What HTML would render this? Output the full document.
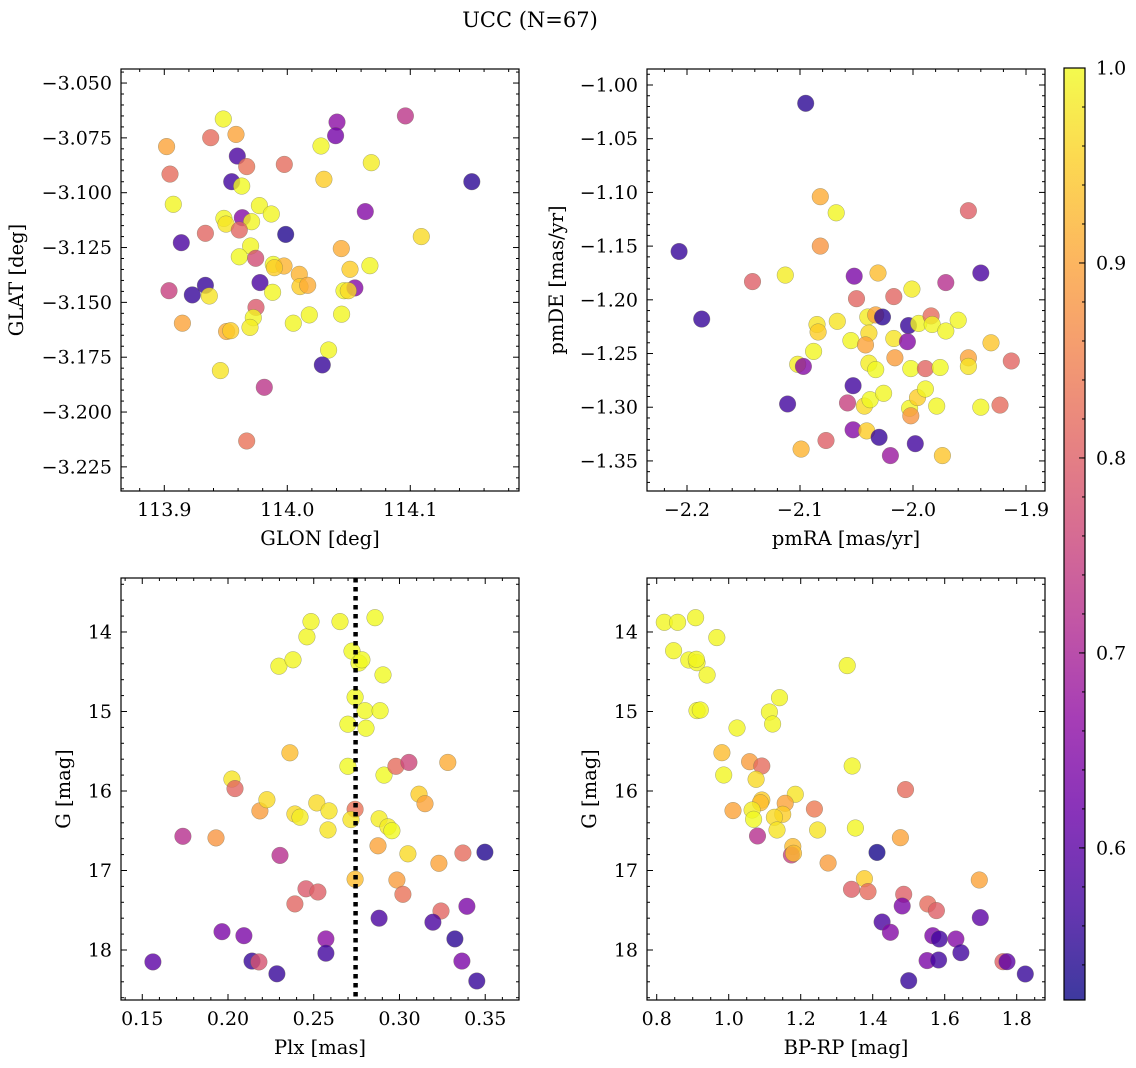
<!DOCTYPE html>
<html><head><meta charset="utf-8"><style>
html,body{margin:0;padding:0;background:#fff;}
svg{display:block;font-family:"DejaVu Serif","Liberation Serif",serif;}
</style></head><body>
<svg id="fig" width="1136" height="1068" viewBox="0 0 1136 1068" xmlns="http://www.w3.org/2000/svg">
<defs>
<linearGradient id="plasmaGrad" x1="0" y1="1" x2="0" y2="0">
<stop offset="0" stop-color="#0d0887"/><stop offset="0.1" stop-color="#41049d"/><stop offset="0.2" stop-color="#6a00a8"/><stop offset="0.3" stop-color="#8f0da4"/><stop offset="0.4" stop-color="#b12a90"/><stop offset="0.5" stop-color="#cc4778"/><stop offset="0.6" stop-color="#e16462"/><stop offset="0.7" stop-color="#f2844b"/><stop offset="0.8" stop-color="#fca636"/><stop offset="0.9" stop-color="#fcce25"/><stop offset="1" stop-color="#f0f921"/>
</linearGradient>
</defs>
<text x="530" y="27" font-size="21" text-anchor="middle" fill="#000">UCC (N=67)</text>
</svg>
<script>
// ---- data: panel 1 (GLON / GLAT) ----
const glon = [113.9480,113.9019,113.9377,113.9583,113.9594,113.9670,113.9976,114.0404,114.0393,114.0274,114.0683,113.9046,113.9548,113.9629,114.0298,113.9073,113.9773,113.9870,113.9485,113.9502,113.9634,113.9710,113.9610,113.9334,113.9138,113.9987,114.0634,113.9702,113.9610,113.9743,113.9886,113.9973,113.9895,114.0439,114.0098,114.0510,114.0672,114.0103,114.0166,113.9038,113.9334,113.9228,113.9366,113.9778,113.9881,114.0461,114.0550,114.0496,113.9746,113.9724,113.9697,113.9507,113.9540,113.9147,114.0049,114.0179,114.0442,114.0336,114.0285,113.9456,113.9813,114.096,114.109,114.150,113.967];
const glat = [-3.0664,-3.0790,-3.0749,-3.0734,-3.0833,-3.0881,-3.0871,-3.0678,-3.0740,-3.0787,-3.0863,-3.0915,-3.0950,-3.0970,-3.0939,-3.1053,-3.1059,-3.1097,-3.1117,-3.1143,-3.1114,-3.1132,-3.1170,-3.1185,-3.1228,-3.1190,-3.1086,-3.1243,-3.1292,-3.1299,-3.1327,-3.1334,-3.1342,-3.1255,-3.1372,-3.1349,-3.1333,-3.1428,-3.1422,-3.1447,-3.1422,-3.1466,-3.1471,-3.1410,-3.1454,-3.1447,-3.1434,-3.1447,-3.1523,-3.1570,-3.1614,-3.1633,-3.1629,-3.1595,-3.1595,-3.1557,-3.1554,-3.1717,-3.1785,-3.1811,-3.1887,-3.065,-3.120,-3.095,-3.2132];
const prob1 = [0.995,0.90,0.82,0.90,0.58,0.83,0.82,0.66,0.63,0.995,0.985,0.82,0.57,1.0,0.95,0.995,0.995,0.995,0.995,0.975,0.65,0.995,0.81,0.81,0.58,0.54,0.65,0.995,1.0,0.77,1.0,0.92,0.95,0.91,0.92,0.95,0.995,0.95,0.91,0.75,0.56,0.56,0.975,0.58,0.995,0.995,0.65,0.965,0.79,0.995,0.985,0.91,0.95,0.90,0.995,0.995,0.995,0.995,0.56,0.975,0.73,0.73,0.965,0.55,0.83];
// ---- data: panel 2 (pmRA / pmDE) ----
const pmra = [-2.113,-2.052,-2.031,-1.940,-1.971,-2.001,-2.050,-2.017,-2.040,-2.033,-2.027,-2.004,-1.995,-1.984,-1.983,-1.960,-1.971,-2.085,-2.084,-2.067,-2.055,-2.039,-2.042,-2.017,-2.005,-1.931,-2.088,-2.016,-2.039,-2.033,-2.002,-1.989,-1.976,-1.951,-1.951,-1.913,-2.102,-2.097,-2.053,-2.111,-2.058,-2.043,-2.038,-2.026,-2.003,-1.996,-1.989,-2.002,-1.979,-1.940,-1.923,-2.053,-2.041,-2.030,-2.077,-2.099,-2.020,-1.998,-1.974,-2.095,-2.082,-2.068,-1.951,-2.207,-2.142,-2.187,-2.082];
const pmde = [-1.177,-1.178,-1.175,-1.175,-1.184,-1.190,-1.199,-1.197,-1.216,-1.214,-1.216,-1.224,-1.222,-1.215,-1.223,-1.219,-1.229,-1.223,-1.230,-1.220,-1.238,-1.231,-1.242,-1.236,-1.239,-1.240,-1.248,-1.254,-1.259,-1.265,-1.264,-1.264,-1.263,-1.254,-1.262,-1.257,-1.260,-1.262,-1.280,-1.297,-1.296,-1.299,-1.293,-1.287,-1.301,-1.291,-1.283,-1.308,-1.299,-1.300,-1.298,-1.321,-1.322,-1.328,-1.331,-1.339,-1.345,-1.334,-1.345,-1.017,-1.104,-1.119,-1.117,-1.155,-1.183,-1.218,-1.150];
const prob2 = [0.985,0.64,0.93,0.58,0.72,0.985,0.81,0.81,0.985,0.90,0.55,0.56,0.995,0.82,0.995,0.995,0.995,0.975,0.95,0.975,0.995,0.965,0.90,0.975,0.65,0.94,0.995,0.89,0.985,1.0,1.0,0.81,1.0,0.90,0.975,0.81,0.985,0.65,0.57,0.57,0.75,0.965,1.0,0.995,0.995,0.95,0.995,0.88,0.995,0.995,0.82,0.65,0.95,0.56,0.80,0.92,0.68,0.57,0.94,0.55,0.91,0.995,0.80,0.56,0.80,0.56,0.88];
// ---- data: panel 3 (Plx / G) ----
const plx = [0.1562,0.1737,0.1930,0.2023,0.2041,0.2186,0.2227,0.2303,0.1965,0.2093,0.2140,0.2180,0.2285,0.2297,0.2379,0.2460,0.2484,0.2653,0.2857,0.2361,0.2390,0.2420,0.2455,0.2524,0.2390,0.2518,0.2589,0.2583,0.2571,0.2571,0.2723,0.2764,0.2781,0.2741,0.2799,0.2887,0.2699,0.2805,0.2904,0.2699,0.2741,0.2717,0.2741,0.2881,0.2933,0.2956,0.2910,0.2979,0.3055,0.3282,0.3114,0.3149,0.2875,0.3049,0.3230,0.3370,0.3498,0.2985,0.3020,0.3242,0.3393,0.2881,0.3195,0.3323,0.3364,0.3451];
const gmag3 = [18.15,16.57,16.59,15.85,15.97,16.25,16.11,16.81,17.77,17.82,18.14,18.15,18.30,14.43,14.35,14.06,13.87,13.87,13.82,15.52,16.29,16.33,17.23,17.27,17.42,16.15,16.25,16.49,17.86,18.04,14.24,14.39,14.35,14.82,14.99,14.99,15.16,15.21,14.54,15.69,16.23,16.36,17.11,16.35,16.45,16.50,15.80,15.69,15.64,15.64,16.04,16.16,16.69,16.79,16.91,16.78,16.77,17.12,17.30,17.51,17.45,17.60,17.65,17.86,18.14,18.39];
const prob3 = [0.60,0.72,0.88,0.975,0.81,0.89,0.965,0.72,0.64,0.64,0.56,0.78,0.56,0.995,0.995,0.995,0.995,0.995,1.0,0.93,0.965,0.985,0.79,0.80,0.81,0.965,0.975,0.975,0.66,0.57,1.0,1.0,1.0,1.0,1.0,1.0,1.0,1.0,1.0,1.0,0.83,0.975,0.93,0.985,0.985,1.0,1.0,0.82,0.76,0.91,0.95,0.90,0.90,0.965,0.90,0.82,0.54,0.89,0.83,0.81,0.64,0.58,0.58,0.55,0.64,0.56];
const plxLine = 0.2744;
// ---- data: panel 4 (BP-RP / G) ----
const bprp = [0.821,0.858,0.908,0.967,0.847,0.889,0.912,0.910,0.940,1.329,1.141,1.113,1.122,0.912,0.921,1.023,0.981,1.058,1.092,0.986,1.076,1.343,1.491,1.185,1.092,1.088,1.157,1.012,1.065,1.069,1.238,1.150,1.127,1.134,1.247,1.352,1.080,1.477,1.178,1.174,1.180,1.412,1.276,1.377,1.696,1.341,1.387,1.486,1.482,1.553,1.577,1.426,1.449,1.699,1.567,1.585,1.631,1.645,1.551,1.583,1.762,1.773,1.500,1.824];
const gmag4 = [13.878,13.878,13.820,14.071,14.235,14.352,14.386,14.344,14.541,14.423,14.826,15.006,15.157,14.989,14.981,15.208,15.518,15.631,15.686,15.799,15.853,15.686,15.983,16.042,16.113,16.147,16.155,16.247,16.239,16.356,16.226,16.293,16.331,16.491,16.491,16.465,16.566,16.587,16.700,16.805,16.784,16.772,16.906,17.103,17.120,17.237,17.266,17.300,17.447,17.421,17.505,17.648,17.778,17.593,17.820,17.862,17.862,18.034,18.134,18.126,18.147,18.147,18.386,18.302];
const prob4 = [0.995,0.995,0.995,0.995,0.995,0.995,0.995,0.995,0.995,0.995,0.995,0.995,0.995,0.995,0.995,0.995,0.93,0.89,0.82,0.995,0.965,0.995,0.82,0.975,0.95,0.93,0.90,0.90,0.985,1.0,0.84,0.95,0.965,0.975,0.975,0.995,0.72,0.90,0.93,0.75,0.93,0.53,0.89,0.95,0.90,0.80,0.82,0.80,0.64,0.82,0.80,0.58,0.65,0.60,0.64,0.57,0.65,0.57,0.64,0.57,0.80,0.60,0.56,0.56];
// ---- colorbar ----
const cbTicks = [0.6,0.7,0.8,0.9,1.0];
const cbLabels = ["0.6","0.7","0.8","0.9","1.0"];
const cMin = 0.522, cMax = 1.0;

const NS = "http://www.w3.org/2000/svg";
const svg = document.getElementById('fig');
function mk(tag, attrs, parent){ const e=document.createElementNS(NS,tag); for(const k in attrs) e.setAttribute(k,attrs[k]); (parent||svg).appendChild(e); return e; }

const stops=[[13,8,135],[65,4,157],[106,0,168],[143,13,164],[177,42,144],[204,71,120],[225,100,98],[242,132,75],[252,166,54],[252,206,37],[240,249,33]];
function plasma(c){ let t=(c-cMin)/(cMax-cMin); t=Math.max(0,Math.min(1,t))*10; const i=Math.min(9,Math.floor(t)), f=t-i; const a=stops[i], b=stops[i+1]; return 'rgb('+a.map((v,k)=>Math.round(v+(b[k]-v)*f)).join(',')+')'; }
function fmt(v,d){ const s=Math.abs(v).toFixed(d); return (v<-1e-9?'\u2212':'')+s; }

const TICK_FS = 19, LABEL_FS = 19.5;

function panel(cfg){
  const {name,x0,x1,y0,y1,xd,yd,xMaj,xMin,yMaj,yMin,xDec,yDec,xLabel,yLabel,yLabelX,xs,ys,cs,vline} = cfg;
  const g = mk('g',{});
  
  
  const sx = v => x0 + (v - xd[0])/(xd[1]-xd[0])*(x1-x0);
  const sy = v => y0 + (v - yd[0])/(yd[1]-yd[0])*(y1-y0);
  const pts = mk('g',{},g);
  
  
  for(let i=0;i<xs.length;i++){
    const c = mk('circle',{cx:sx(xs[i]).toFixed(1),cy:sy(ys[i]).toFixed(1),r:8.3,fill:plasma(cs[i]),'fill-opacity':0.8,stroke:'#6a6a50','stroke-width':0.5,'stroke-opacity':0.6},pts);
    
    
  }
  if(vline!==undefined){
    const l = mk('line',{x1:sx(vline),x2:sx(vline),y1:y0,y2:y1,stroke:'#000','stroke-width':4.5,'stroke-dasharray':'4.5 4.5'},g);
    
    
  }
  const fr = mk('rect',{x:x0,y:y0,width:x1-x0,height:y1-y0,fill:'none',stroke:'#000','stroke-width':1.2},g);
  
  
  const lo=Math.min(xd[0],xd[1]), hi=Math.max(xd[0],xd[1]);
  for(let k=Math.ceil(lo/xMin-1e-6);k*xMin<=hi+1e-9;k++){
    const v=k*xMin, px=sx(v); const r=Math.abs(v/xMaj-Math.round(v/xMaj))<1e-6; const L=r?6:3;
    mk('line',{x1:px,x2:px,y1:y1,y2:y1-L,stroke:'#000','stroke-width':1},g);
    mk('line',{x1:px,x2:px,y1:y0,y2:y0+L,stroke:'#000','stroke-width':1},g);
    if(r){ const t=mk('text',{x:px,y:y1+25,'font-size':TICK_FS,'text-anchor':'middle'},g); t.textContent=fmt(v,xDec);
        }
  }
  const ylo=Math.min(yd[0],yd[1]), yhi=Math.max(yd[0],yd[1]);
  for(let k=Math.ceil(ylo/yMin-1e-6);k*yMin<=yhi+1e-9;k++){
    const v=k*yMin, py=sy(v); const r=Math.abs(v/yMaj-Math.round(v/yMaj))<1e-6; const L=r?6:3;
    mk('line',{x1:x0,x2:x0+L,y1:py,y2:py,stroke:'#000','stroke-width':1},g);
    mk('line',{x1:x1,x2:x1-L,y1:py,y2:py,stroke:'#000','stroke-width':1},g);
    if(r){ const t=mk('text',{x:x0-9,y:py+6.5,'font-size':TICK_FS,'text-anchor':'end'},g); t.textContent=fmt(v,yDec);
        }
  }
  const xl=mk('text',{x:(x0+x1)/2,y:y1+54,'font-size':LABEL_FS,'text-anchor':'middle'},g); xl.textContent=xLabel;
   
  const yl=mk('text',{x:yLabelX,y:(y0+y1)/2,'font-size':LABEL_FS,'text-anchor':'middle',transform:`rotate(-90 ${yLabelX} ${(y0+y1)/2})`},g); yl.textContent=yLabel;
   
}

panel({name:'glon-glat-panel',x0:121,x1:519,y0:69,y1:491,xd:[113.8648,114.1884],yd:[-3.0436,-3.2360],xMaj:0.1,xMin:0.02,yMaj:0.025,yMin:0.005,xDec:1,yDec:3,xLabel:'GLON [deg]',yLabel:'GLAT [deg]',yLabelX:23,xs:glon,ys:glat,cs:prob1});
panel({name:'pm-panel',x0:647,x1:1045,y0:69,y1:491,xd:[-2.2354,-1.8832],yd:[-0.9851,-1.378],xMaj:0.1,xMin:0.02,yMaj:0.05,yMin:0.01,xDec:1,yDec:2,xLabel:'pmRA [mas/yr]',yLabel:'pmDE [mas/yr]',yLabelX:563,xs:pmra,ys:pmde,cs:prob2});
panel({name:'plx-g-panel',x0:121,x1:519,y0:578,y1:1000,xd:[0.1376,0.3697],yd:[13.321,18.629],xMaj:0.05,xMin:0.01,yMaj:1,yMin:0.2,xDec:2,yDec:0,xLabel:'Plx [mas]',yLabel:'G [mag]',yLabelX:70,xs:plx,ys:gmag3,cs:prob3,vline:plxLine});
panel({name:'cmd-panel',x0:647,x1:1045,y0:578,y1:1000,xd:[0.773,1.8786],yd:[13.321,18.629],xMaj:0.2,xMin:0.05,yMaj:1,yMin:0.2,xDec:1,yDec:0,xLabel:'BP-RP [mag]',yLabel:'G [mag]',yLabelX:596,xs:bprp,ys:gmag4,cs:prob4});

(function(){
  const cx0=1064,cx1=1085,cy0=68,cy1=1000;
  const g=mk('g',{});
  
  
  const sy=v=>cy1-(v-cMin)/(cMax-cMin)*(cy1-cy0);
  mk('rect',{x:cx0,y:cy0,width:cx1-cx0,height:cy1-cy0,fill:'url(#plasmaGrad)','fill-opacity':0.8},g);
  mk('rect',{x:cx0,y:cy0,width:cx1-cx0,height:cy1-cy0,fill:'none',stroke:'#000','stroke-width':1.2},g);
  for(let k=Math.ceil(cMin/0.02);k*0.02<=cMax+1e-9;k++){
    const py=sy(k*0.02); mk('line',{x1:cx1,x2:cx1-3,y1:py,y2:py,stroke:'#000','stroke-width':1},g);
  }
  cbTicks.forEach((v,i)=>{
    const py=sy(v); mk('line',{x1:cx1,x2:cx1-6,y1:py,y2:py,stroke:'#000','stroke-width':1},g);
    const t=mk('text',{x:cx1+11,y:py+6.5,'font-size':TICK_FS},g); t.textContent=cbLabels[i];
    
    
  });
})();
</script>
</body></html>
